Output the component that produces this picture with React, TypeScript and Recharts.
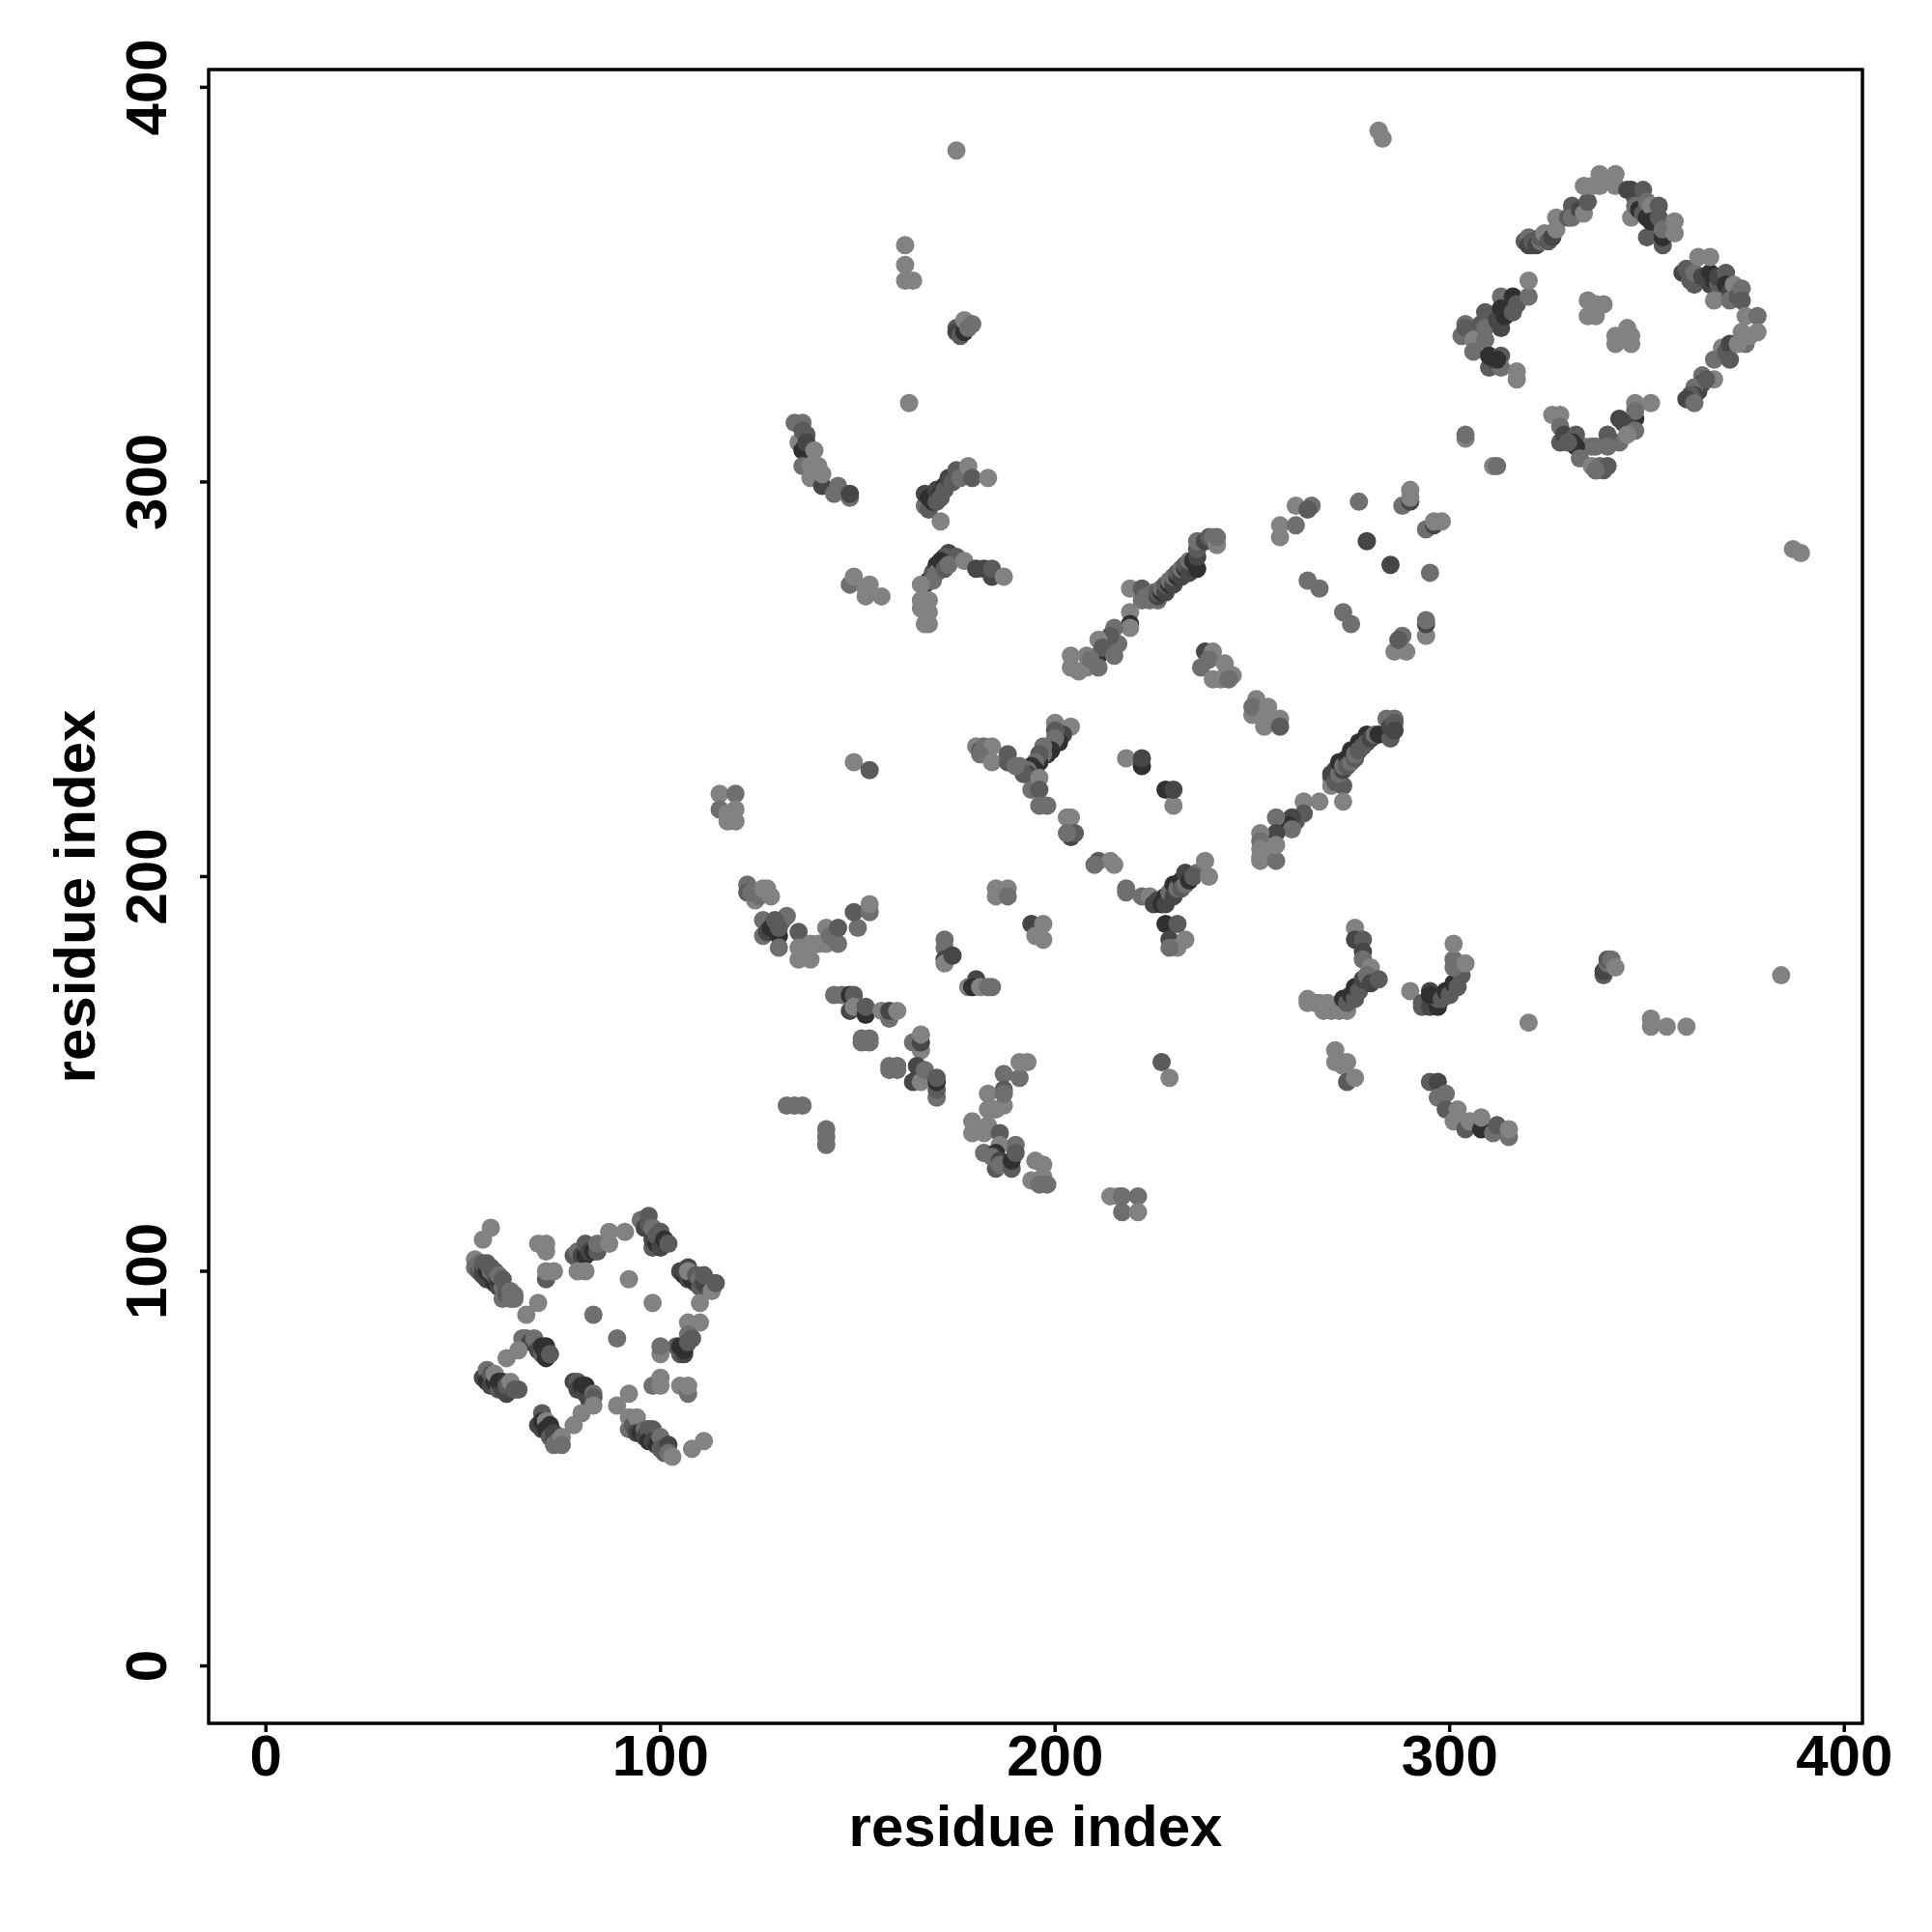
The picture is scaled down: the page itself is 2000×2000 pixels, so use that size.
import React from 'react';
import { ScatterChart, Scatter, XAxis, YAxis, ReferenceArea } from 'recharts';

// [residue i, residue j, contact strength 0 (weak) .. 4 (strong)]
type Contact = [number, number, number];

const ticks = [0, 100, 200, 300, 400];
const strengthGreys = ['#828282', '#6f6f6f', '#5b5b5b', '#464646', '#303030'];

const lowerLeftDomain: Contact[] = [
  [57, 111, 0], [55, 108, 0],
  [53, 103, 0], [53, 101, 1], [54, 100, 2], [54, 102, 1], [55, 99, 3], [55, 101, 3], [55, 102, 2], [56, 98, 3], [56, 100, 4], [56, 102, 2],
  [57, 99, 4], [57, 100, 1], [57, 101, 2], [58, 97, 4], [58, 99, 2], [58, 100, 2], [59, 96, 3], [59, 98, 4], [59, 99, 1], [60, 95, 3], [60, 96, 1], [60, 98, 2], [60, 93, 1],
  [61, 94, 2], [61, 95, 2], [62, 93, 1], [62, 95, 1], [63, 94, 1], [63, 93, 1],
  [66, 89, 0], [69, 92, 0],
  [69, 107, 0], [71, 105, 0], [71, 107, 0], [71, 98, 2], [71, 100, 0], [73, 100, 0],
  [78, 104, 2], [79, 105, 1], [80, 104, 3], [81, 104, 4], [81, 107, 2], [82, 105, 3], [83, 105, 4], [84, 105, 2], [84, 107, 1], [87, 107, 0], [87, 110, 0], [91, 110, 0],
  [79, 100, 0], [81, 100, 0],
  [92, 98, 0], [98, 92, 0], [83, 89, 1], [89, 83, 1],
  [95, 113, 1], [97, 114, 2], [96, 111, 3], [97, 112, 2], [98, 106, 2], [98, 108, 3], [98, 111, 1], [99, 107, 4], [99, 109, 2], [100, 106, 3], [100, 110, 2], [101, 108, 4], [102, 107, 2],
  [105, 100, 3], [106, 99, 4], [106, 100, 3], [107, 98, 3], [107, 101, 3], [108, 98, 4], [107, 100, 0], [109, 97, 4], [109, 99, 2], [110, 98, 1], [110, 96, 2], [111, 97, 3], [111, 99, 2], [113, 95, 0], [114, 97, 2],
  [110, 92, 0], [110, 87, 0], [107, 87, 0], [104, 81, 2], [105, 79, 2], [105, 81, 4], [106, 79, 3], [106, 80, 4], [107, 84, 1], [107, 82, 2], [108, 83, 2],
  [100, 79, 0], [100, 81, 1],
  [98, 71, 1], [100, 73, 0], [100, 71, 0], [105, 71, 0], [107, 69, 1], [107, 71, 0],
  [65, 83, 1], [66, 83, 1], [67, 82, 3], [68, 83, 1], [69, 80, 3], [70, 79, 2], [70, 81, 4], [71, 81, 4], [71, 78, 4], [71, 79, 4], [72, 79, 2],
  [64, 80, 0], [61, 78, 0],
  [55, 73, 3], [56, 75, 1], [56, 72, 4], [57, 71, 3], [57, 74, 2], [58, 72, 4], [58, 74, 0], [59, 70, 2], [59, 72, 4], [60, 70, 3], [60, 72, 4], [61, 69, 3], [61, 71, 2], [62, 72, 0], [63, 70, 2], [64, 70, 2],
  [78, 72, 3], [79, 72, 2], [79, 70, 3], [80, 71, 4], [81, 69, 3], [81, 71, 4], [82, 67, 3], [83, 69, 1], [83, 68, 2], [83, 66, 0], [80, 64, 0], [78, 61, 0],
  [69, 61, 3], [70, 64, 2], [70, 60, 3], [70, 62, 4], [71, 62, 0], [71, 60, 4], [72, 61, 4], [72, 58, 2], [73, 57, 3], [73, 59, 3], [74, 57, 1], [73, 56, 1], [75, 58, 0], [75, 56, 1],
  [89, 66, 0], [92, 69, 0],
  [92, 60, 1], [92, 63, 0], [93, 61, 2], [94, 63, 0], [94, 59, 3], [95, 59, 4], [96, 60, 1], [96, 58, 3], [97, 60, 2], [97, 57, 4], [98, 60, 2], [98, 57, 3], [99, 56, 4], [100, 58, 1], [100, 55, 2], [101, 54, 2], [102, 56, 3], [102, 54, 1], [103, 53, 0],
  [108, 55, 0], [111, 57, 0],
];

const upperRightDomain: Contact[] = [
  [319, 361, 2], [320, 362, 1], [320, 360, 3], [321, 360, 3], [321, 361, 2], [322, 360, 3], [323, 361, 1], [323, 362, 2], [324, 363, 0], [325, 361, 2], [326, 362, 3], [327, 364, 0], [327, 367, 0],
  [330, 367, 2], [331, 370, 2], [331, 367, 1], [333, 369, 3], [334, 368, 0], [335, 371, 2], [334, 375, 0], [336, 375, 0], [338, 378, 0], [338, 375, 0], [340, 376, 0], [342, 378, 0], [342, 375, 0],
  [345, 374, 3], [346, 374, 3], [347, 372, 3], [349, 374, 2], [346, 367, 0], [347, 370, 1], [348, 369, 4], [349, 368, 2], [350, 367, 4], [350, 371, 1], [351, 370, 0], [352, 365, 3], [350, 362, 2], [351, 366, 4],
  [353, 370, 2], [353, 367, 2], [354, 360, 2], [354, 362, 4], [354, 364, 1], [357, 366, 0], [357, 363, 0],
  [359, 353, 3], [360, 354, 2], [361, 351, 2], [362, 350, 2], [362, 353, 1], [363, 357, 0], [364, 352, 3], [366, 353, 4], [366, 350, 3], [366, 357, 0], [367, 351, 4], [368, 350, 2], [367, 346, 0], [368, 352, 3],
  [370, 353, 2], [370, 350, 4], [371, 348, 3], [372, 350, 0], [371, 346, 1], [373, 347, 2], [374, 349, 1], [374, 346, 2], [375, 342, 0], [378, 342, 1],
  [374, 338, 0], [375, 335, 1], [378, 338, 0], [376, 337, 0],
  [369, 334, 0], [367, 331, 1], [370, 333, 2], [371, 335, 3], [371, 331, 2], [373, 335, 0],
  [367, 326, 0], [364, 327, 1], [364, 325, 3], [363, 323, 3], [362, 324, 1], [362, 322, 3], [361, 322, 2], [360, 321, 3], [362, 320, 1], [365, 326, 2],
  [351, 320, 0], [347, 320, 0], [347, 316, 4], [347, 318, 1], [344, 315, 3], [343, 316, 3], [345, 314, 3], [347, 313, 1], [343, 310, 1], [345, 312, 0],
  [340, 312, 2], [340, 309, 1], [337, 309, 1], [334, 309, 0], [336, 309, 1],
  [328, 317, 0], [326, 317, 0], [328, 314, 1], [328, 310, 2], [329, 312, 3], [332, 312, 2], [331, 310, 4], [332, 309, 4], [330, 310, 2], [333, 306, 1],
  [336, 304, 0], [337, 303, 2], [338, 304, 1], [339, 303, 2], [340, 304, 2], [337, 303, 1],
  [304, 338, 1], [304, 340, 1], [303, 337, 1], [304, 339, 2], [306, 336, 0], [306, 333, 1],
  [308, 340, 2], [309, 343, 2], [309, 336, 1], [309, 339, 1], [310, 329, 2], [311, 331, 3], [310, 332, 4], [313, 332, 2], [313, 329, 1], [312, 331, 4],
  [317, 328, 0], [317, 326, 0],
  [312, 341, 3], [313, 339, 3], [313, 347, 1], [313, 344, 4], [314, 342, 4], [316, 343, 2], [316, 347, 4], [317, 345, 2], [320, 347, 1], [320, 351, 0],
  [335, 346, 0], [335, 342, 0], [337, 345, 0], [339, 345, 0], [337, 342, 0],
  [345, 339, 0], [342, 337, 0], [342, 335, 0], [346, 335, 0], [346, 337, 0],
  [304, 311, 0], [304, 312, 1], [311, 304, 0], [312, 304, 1],
];

const centralBarrel: Contact[] = [
  [219, 273, 0], [222, 270, 1], [222, 273, 2], [223, 271, 1], [224, 270, 1], [225, 272, 1], [226, 270, 1], [226, 271, 3], [226, 272, 2], [227, 272, 4], [227, 273, 1], [228, 272, 3], [228, 274, 2],
  [229, 274, 4], [229, 275, 1], [230, 274, 3], [230, 276, 1], [231, 276, 4], [231, 277, 2], [232, 276, 3], [232, 278, 1], [233, 278, 4], [233, 279, 2], [234, 277, 3], [234, 280, 1],
  [235, 280, 4], [236, 278, 4], [236, 281, 3], [236, 283, 2], [236, 285, 1], [238, 285, 3], [239, 286, 2], [240, 286, 1], [241, 284, 0], [241, 286, 1],
  [219, 267, 0], [219, 264, 4], [219, 263, 0], [215, 263, 1], [216, 259, 1], [214, 261, 2], [211, 260, 0], [211, 256, 4], [212, 258, 2], [215, 256, 1],
  [204, 256, 0], [204, 253, 0], [206, 252, 0], [208, 256, 0], [208, 253, 0], [209, 255, 1], [211, 253, 1],
  [238, 257, 3], [240, 257, 0], [237, 253, 1], [239, 255, 1], [243, 254, 0], [240, 250, 0], [245, 251, 0], [242, 250, 0], [244, 250, 1],
  [251, 245, 0], [250, 241, 0], [250, 243, 1], [254, 243, 0], [253, 240, 0], [253, 238, 0], [257, 240, 0], [257, 238, 2],
  [261, 294, 0], [265, 294, 1], [264, 293, 2], [257, 289, 0], [257, 286, 0], [261, 289, 1],
  [277, 295, 1], [279, 285, 3], [285, 279, 3], [295, 277, 1], [264, 275, 1], [267, 273, 1], [273, 267, 1], [275, 264, 1],
  [288, 294, 1], [290, 295, 3], [290, 296, 0], [290, 298, 0], [294, 288, 1], [296, 289, 3], [296, 290, 0], [298, 290, 0],
  [294, 261, 0], [294, 264, 3], [294, 265, 1], [288, 261, 1], [286, 257, 0], [289, 257, 0], [287, 260, 2],
  [270, 225, 1], [270, 223, 0], [270, 226, 3], [271, 224, 2], [273, 223, 2], [273, 219, 0], [271, 227, 3], [272, 226, 1], [272, 229, 4], [273, 227, 3], [273, 228, 1], [274, 230, 4], [274, 228, 2], [275, 229, 1],
  [275, 232, 4], [276, 230, 2], [276, 231, 1], [277, 234, 4], [277, 232, 2], [278, 233, 2], [279, 236, 4], [279, 234, 2], [280, 235, 3], [281, 236, 1], [282, 236, 4],
  [285, 235, 2], [284, 240, 1], [285, 238, 3], [286, 240, 1], [286, 239, 2], [286, 237, 3],
  [267, 219, 0], [263, 219, 0], [263, 216, 2], [261, 214, 2], [260, 215, 3], [259, 213, 4], [256, 215, 1], [260, 212, 1], [256, 211, 3], [252, 211, 0], [252, 209, 1], [252, 207, 0], [252, 205, 0], [254, 206, 0], [252, 204, 0], [256, 204, 1], [256, 208, 0],
  [200, 239, 0], [204, 238, 0], [202, 236, 3], [200, 237, 2], [201, 234, 4], [200, 235, 1], [199, 233, 1], [199, 232, 4], [198, 231, 4], [197, 233, 1], [197, 231, 1], [196, 229, 4], [196, 231, 2], [195, 229, 1], [194, 228, 4], [195, 227, 4], [193, 227, 1], [193, 226, 3], [191, 228, 1], [192, 226, 2],
  [194, 222, 1], [196, 225, 0], [196, 222, 2], [196, 218, 1], [198, 218, 1],
  [180, 233, 0], [181, 232, 2], [182, 233, 1], [184, 233, 0], [181, 231, 1], [184, 229, 0], [188, 231, 2], [188, 229, 2], [190, 228, 1],
  [218, 230, 0], [222, 228, 4], [222, 230, 3], [228, 222, 4], [230, 218, 0], [230, 222, 3],
  [203, 215, 0], [204, 215, 0], [204, 210, 3], [205, 211, 2], [203, 211, 1],
  [211, 204, 2], [214, 204, 0], [210, 203, 1], [215, 203, 0],
  [218, 197, 1], [218, 196, 1], [222, 195, 1], [224, 195, 0], [225, 193, 3], [226, 194, 3], [227, 193, 4], [228, 195, 4], [228, 193, 3], [229, 196, 1], [230, 198, 4], [230, 195, 3], [231, 197, 1], [232, 199, 4], [232, 197, 2], [233, 198, 1],
  [233, 201, 3], [234, 199, 4], [236, 201, 1], [235, 200, 2], [238, 204, 0], [239, 200, 0],
  [228, 188, 4], [231, 188, 2], [229, 184, 3], [233, 184, 0], [231, 182, 0], [229, 182, 1],
  [185, 197, 0], [185, 195, 0], [188, 197, 0], [188, 195, 1],
  [194, 188, 3], [197, 188, 0], [195, 185, 0], [197, 184, 0],
];

const upperLeftArms: Contact[] = [
  [175, 384, 0], [162, 360, 0], [162, 355, 0], [162, 351, 0], [164, 351, 0], [163, 320, 0],
  [175, 339, 2], [175, 338, 3], [176, 337, 2], [177, 338, 4], [177, 341, 0], [179, 340, 1], [178, 339, 1],
  [134, 315, 1], [136, 315, 1], [135, 310, 0], [137, 312, 2], [136, 313, 2], [136, 308, 4], [136, 304, 1], [137, 310, 3], [139, 308, 0], [138, 304, 0], [138, 301, 0], [140, 304, 0],
  [141, 299, 3], [141, 302, 0], [144, 297, 1], [145, 299, 1], [148, 296, 1], [148, 297, 3],
  [167, 294, 1], [167, 297, 3], [168, 293, 2], [168, 296, 4], [169, 295, 4], [170, 295, 2], [170, 298, 3], [171, 297, 4], [171, 296, 2], [172, 299, 4], [172, 298, 2], [173, 301, 3], [174, 300, 2],
  [175, 303, 2], [176, 301, 1], [178, 304, 0], [179, 301, 2], [183, 301, 0], [171, 290, 0],
  [173, 282, 3], [172, 281, 2], [175, 281, 2], [167, 274, 3], [168, 275, 4], [169, 277, 2], [169, 275, 1], [170, 279, 4], [170, 277, 1], [171, 280, 4], [172, 278, 2], [173, 279, 1], [177, 280, 0],
  [180, 278, 3], [182, 278, 3], [184, 276, 3], [184, 278, 2], [187, 276, 0],
  [166, 274, 0], [166, 270, 0], [166, 268, 0], [168, 270, 0], [168, 267, 0], [168, 264, 0], [167, 264, 0],
  [149, 275, 3], [148, 274, 1], [149, 276, 0], [152, 271, 0], [153, 274, 0], [152, 273, 0], [156, 271, 0],
];

const centerLeftBand: Contact[] = [
  [115, 221, 0], [119, 221, 1], [115, 217, 1], [117, 216, 0], [119, 217, 0], [119, 214, 0], [117, 214, 0],
  [149, 229, 0], [153, 227, 2],
  [122, 198, 1], [122, 196, 2], [124, 194, 0], [123, 196, 1], [125, 195, 1], [126, 197, 0], [128, 195, 0], [127, 197, 0],
  [126, 185, 1], [126, 189, 1], [127, 186, 3], [128, 187, 4], [130, 185, 4], [130, 182, 1], [131, 189, 1], [132, 190, 1], [130, 187, 2], [129, 189, 2],
  [135, 186, 2], [135, 182, 0], [135, 179, 0], [138, 183, 0], [138, 179, 0], [140, 183, 0], [142, 187, 0], [142, 183, 0], [143, 185, 1], [145, 183, 1], [145, 187, 2], [150, 187, 1], [149, 191, 2], [153, 191, 1], [153, 193, 0],
  [172, 184, 1], [172, 182, 1], [172, 179, 3], [172, 178, 0], [174, 180, 3],
  [180, 174, 3], [178, 172, 0], [179, 172, 4], [181, 172, 0], [184, 172, 1], [183, 172, 1],
  [144, 170, 1], [146, 170, 1], [148, 170, 4], [149, 170, 2], [148, 166, 3], [149, 167, 0], [152, 165, 4], [152, 167, 2], [156, 166, 0], [158, 164, 1], [158, 166, 3], [160, 166, 0],
  [151, 158, 1], [151, 159, 1], [153, 158, 1], [153, 159, 1], [158, 151, 1], [158, 152, 1], [160, 151, 1], [160, 152, 1],
  [166, 156, 0], [164, 158, 1], [166, 158, 3], [166, 160, 0], [164, 148, 3], [165, 152, 3], [166, 148, 0], [167, 151, 1], [170, 144, 1], [170, 146, 2], [170, 148, 4], [170, 149, 2],
  [132, 142, 1], [134, 142, 1], [136, 142, 1], [142, 136, 1], [142, 134, 1], [142, 132, 1],
  [191, 149, 1], [191, 153, 0], [193, 153, 0], [187, 150, 1], [187, 146, 2], [183, 145, 0], [187, 142, 0], [183, 141, 0], [185, 141, 0], [187, 145, 1],
  [179, 138, 0], [179, 135, 0], [183, 137, 0], [182, 135, 0], [182, 130, 1], [186, 135, 2], [186, 132, 0],
  [185, 126, 2], [185, 130, 4], [184, 129, 1], [186, 128, 3], [186, 127, 1], [189, 126, 2], [189, 128, 4], [190, 132, 1], [190, 130, 2],
  [194, 123, 0], [195, 128, 0], [197, 127, 0], [197, 124, 0], [196, 122, 1], [198, 122, 1],
  [214, 119, 0], [216, 119, 0], [217, 119, 1], [221, 119, 1], [217, 115, 1], [221, 115, 0],
  [227, 153, 2], [229, 149, 0],
];

const lowerRightArms: Contact[] = [
  [276, 187, 0], [276, 184, 3], [278, 184, 2], [278, 181, 3], [278, 179, 1], [280, 177, 0],
  [264, 169, 0], [264, 168, 0], [266, 168, 0], [267, 168, 0], [269, 168, 0], [268, 166, 0], [270, 166, 0], [272, 166, 0], [274, 166, 0],
  [273, 169, 4], [274, 168, 2], [275, 170, 4], [276, 169, 2], [276, 172, 4], [277, 171, 2], [278, 174, 3], [279, 175, 1], [280, 173, 3], [282, 174, 2],
  [290, 171, 0], [293, 168, 2], [293, 167, 2], [295, 167, 3], [295, 171, 3], [297, 167, 4], [297, 169, 2], [295, 170, 4], [298, 169, 2], [299, 171, 4], [300, 170, 2], [301, 173, 4], [302, 172, 2], [303, 175, 2],
  [301, 177, 1], [301, 179, 1], [301, 183, 0], [304, 178, 0],
  [320, 163, 0], [339, 175, 2], [339, 176, 3], [340, 178, 1], [340, 179, 2], [341, 179, 1], [342, 177, 0],
  [351, 164, 0], [351, 162, 0], [355, 162, 0], [360, 162, 0], [384, 175, 0],
  [271, 156, 0], [271, 153, 0], [273, 152, 0], [274, 153, 0], [274, 148, 2], [276, 149, 0],
  [295, 148, 2], [297, 148, 3], [297, 144, 1], [299, 145, 1], [299, 141, 2], [302, 141, 0], [301, 138, 0], [304, 136, 2], [305, 138, 0],
  [308, 136, 4], [308, 139, 0], [311, 135, 1], [312, 137, 2], [315, 134, 1], [315, 136, 0],
];

const scatteredContacts: Contact[] = [
  [282, 389, 0], [283, 387, 0], [387, 283, 0], [389, 282, 0],
];

const contacts = [
  ...lowerLeftDomain,
  ...upperRightDomain,
  ...centralBarrel,
  ...upperLeftArms,
  ...centerLeftBand,
  ...lowerRightArms,
  ...scatteredContacts,
].map(([i, j, strength]) => ({ i, j, strength }));

const ContactDot = (props: any) => (
  <circle cx={props.cx} cy={props.cy} r={9.5} fill={strengthGreys[props.payload.strength]} />
);

const textFont = { fontFamily: '"Liberation Sans"', fontWeight: 700, fontSize: 60, fill: '#000' };

const XTick = ({ x, y, payload }: any) => (
  <text x={x} y={y} dy={43} textAnchor="middle" {...textFont}>
    {payload.value}
  </text>
);

const YTick = ({ x, y, payload }: any) => (
  <text x={x} y={y} dx={-33} textAnchor="middle" transform={`rotate(-90 ${x - 33} ${y})`} {...textFont}>
    {payload.value}
  </text>
);

export default function App() {
  return (
    <div style={{ position: 'absolute', left: 0, top: 0, width: 2000, height: 2000, background: '#fff' }}>
      <ScatterChart width={2000} height={2000} margin={{ top: 72, right: 72, bottom: 0, left: 0 }}>
        <XAxis
          type="number"
          dataKey="i"
          domain={[-14.5, 404.6]}
          ticks={ticks}
          height={216}
          tick={<XTick />}
          tickSize={9}
          tickLine={{ stroke: '#000', strokeWidth: 3.5 }}
          axisLine={false}
          interval={0}
          allowDataOverflow
          label={{ value: 'residue index', position: 'insideBottom', offset: 89, ...textFont }}
        />
        <YAxis
          type="number"
          dataKey="j"
          domain={[-14.55, 404.5]}
          ticks={ticks}
          width={216}
          tick={<YTick />}
          tickSize={9}
          tickLine={{ stroke: '#000', strokeWidth: 3.5 }}
          axisLine={false}
          interval={0}
          allowDataOverflow
          label={{ value: 'residue index', angle: -90, position: 'insideLeft', offset: 77, style: { textAnchor: 'middle' }, ...textFont }}
        />
        <ReferenceArea x1={-14.5} x2={404.6} y1={-14.55} y2={404.5} fill="none" stroke="#000" strokeWidth={3.5} />
        <Scatter data={contacts} isAnimationActive={false} shape={<ContactDot />} />
      </ScatterChart>
    </div>
  );
}
